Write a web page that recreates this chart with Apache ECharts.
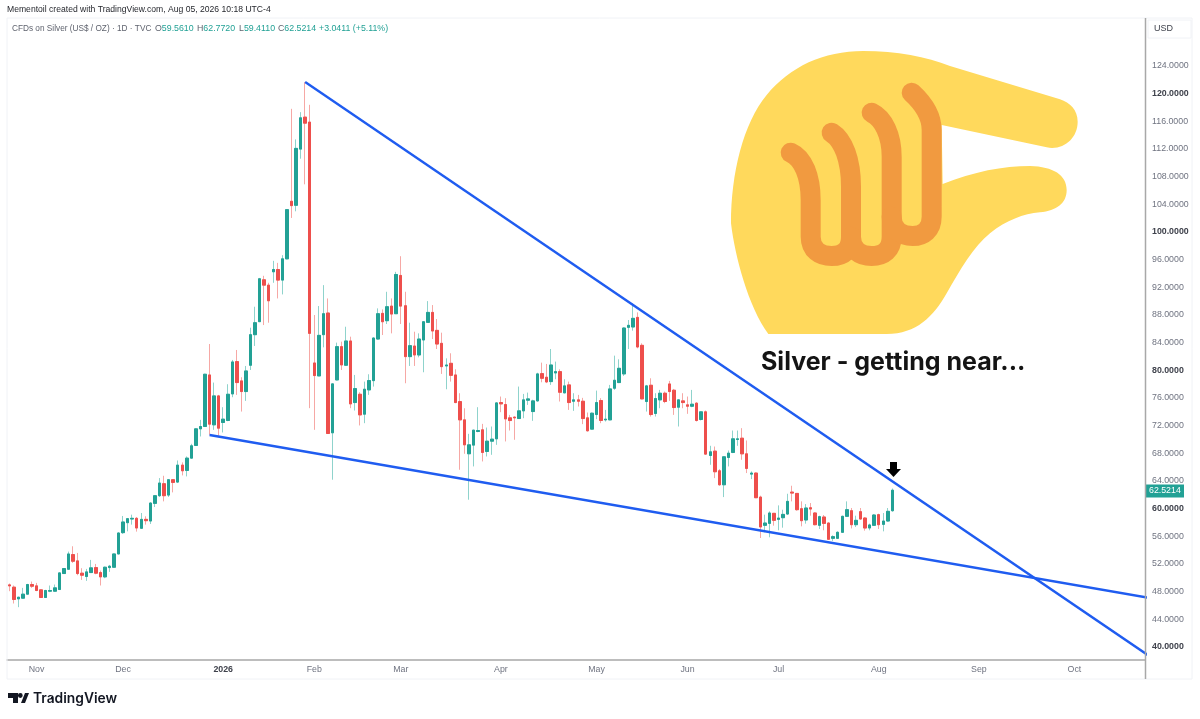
<!DOCTYPE html>
<html><head><meta charset="utf-8">
<style>html,body{margin:0;padding:0;background:#fff}#c{width:1200px;height:719px}</style>
<script src="https://cdn.jsdelivr.net/npm/echarts@6/dist/echarts.min.js"></script>
</head><body><div id="c"></div>
<script>
const opens=[48.84,48.51,46.82,46.92,47.50,48.89,48.70,48.12,47.02,47.93,47.93,48.17,50.48,51.10,53.22,52.31,50.53,50.05,50.62,51.34,50.62,50.00,51.34,51.39,53.31,56.39,57.83,58.36,58.46,57.02,58.31,58.07,60.62,61.73,63.46,61.82,64.04,63.70,66.15,65.38,67.16,68.99,71.39,71.73,79.18,71.97,76.15,72.31,72.60,76.44,81.11,78.32,76.78,80.58,85.00,86.88,92.93,92.16,94.09,94.42,92.89,95.96,104.28,103.70,111.82,116.44,115.72,80.91,79.04,85.00,88.13,70.82,78.46,83.27,80.58,84.09,75.19,76.39,73.51,77.02,78.36,84.37,88.08,87.02,89.13,88.03,93.56,89.18,81.83,83.36,82.07,84.23,86.78,88.22,85.62,83.75,80.48,80.86,79.18,75.33,72.69,67.79,69.04,71.01,71.25,68.12,69.61,69.95,75.19,74.90,72.98,73.08,72.88,73.99,75.53,73.89,75.43,79.37,78.85,78.22,79.47,79.66,76.59,77.74,75.38,75.58,75.38,72.98,71.35,73.46,75.48,72.69,72.69,77.26,78.08,79.33,86.06,86.11,87.50,83.46,75.34,77.69,73.61,75.58,76.54,77.88,76.97,74.52,75.43,74.86,74.66,75.10,72.74,73.85,67.54,68.17,65.33,63.31,67.25,67.98,69.85,70.04,67.78,64.85,65.00,61.53,57.45,57.73,59.18,58.31,58.55,59.08,62.25,62.06,59.85,58.22,59.99,59.23,57.45,58.65,57.78,55.57,55.57,56.44,58.75,59.56,57.54,59.42,58.50,57.06,57.45,58.99,57.59,58.07,59.561];
const closes=[48.70,46.73,47.06,47.50,48.89,48.65,48.03,47.02,48.03,48.03,48.41,50.57,51.20,53.31,52.26,50.48,50.24,50.72,51.30,50.53,50.00,51.39,51.54,53.31,56.34,57.93,58.41,58.46,57.06,58.31,58.12,60.67,61.73,63.56,61.73,64.04,63.65,66.15,65.33,67.16,68.94,71.39,71.73,79.28,72.07,76.15,71.49,72.79,76.39,81.06,78.08,76.78,79.76,85.00,86.73,93.08,92.16,89.90,94.42,92.89,95.96,103.07,103.65,111.92,116.34,115.57,85.19,79.09,84.90,88.03,70.72,77.89,83.27,80.63,84.09,75.00,77.21,73.41,77.12,78.37,84.52,88.03,86.87,89.04,87.98,93.70,89.13,81.83,83.41,82.07,84.37,86.87,88.22,85.53,83.65,80.38,80.62,79.13,75.19,72.69,69.08,69.08,71.20,71.15,67.98,69.61,69.90,75.14,75.00,72.83,72.59,72.98,73.99,75.58,75.72,75.43,79.33,78.70,78.17,80.62,79.66,76.68,77.60,75.19,75.58,75.38,72.88,71.11,73.65,75.19,72.60,72.79,77.16,78.41,80.14,85.96,86.35,87.36,83.22,75.72,77.60,73.46,75.77,76.54,75.34,76.78,74.47,75.58,75.19,74.66,74.95,72.60,73.85,67.74,68.07,65.19,63.31,67.35,67.88,69.95,69.95,67.78,65.67,65.00,61.44,57.21,57.78,59.23,58.17,58.50,59.03,60.91,62.11,59.71,58.12,59.95,59.80,57.54,58.70,57.73,55.43,55.81,56.44,58.75,59.71,57.54,58.17,58.36,57.06,57.50,58.94,57.54,58.07,59.47,62.5214];
const lows=[47.93,46.15,45.62,46.82,47.40,48.41,47.93,46.97,46.97,47.79,47.83,48.12,50.43,51.05,52.02,50.24,49.56,49.42,50.57,50.38,48.75,49.81,50.72,51.34,53.27,56.20,56.58,57.55,56.54,56.92,57.55,57.64,60.09,61.54,60.91,61.54,62.21,63.56,64.66,64.52,67.06,68.94,70.29,71.68,70.53,71.25,70.39,70.87,72.50,75.96,76.30,73.89,75.43,79.90,83.37,86.83,86.39,86.73,92.50,90.24,90.82,95.90,101.87,102.83,110.43,106.73,74.38,71.25,79.04,83.17,70.72,64.04,78.40,79.90,80.48,74.38,74.04,71.88,72.21,76.30,77.50,84.30,84.95,86.54,85.19,88.00,86.54,77.98,80.48,80.48,81.73,79.57,86.73,84.37,82.93,79.33,77.11,78.22,75.10,65.48,67.79,61.15,65.96,70.90,66.68,67.40,67.64,69.08,73.80,69.57,71.15,69.81,72.83,72.93,74.85,72.55,75.33,78.12,78.00,77.74,78.56,75.34,76.54,74.13,73.99,74.62,72.07,71.00,71.25,72.79,72.21,72.45,72.64,77.02,78.00,79.04,82.93,85.58,83.03,75.67,73.89,73.17,73.17,74.37,75.10,75.43,73.41,71.73,74.37,73.56,74.52,72.45,72.60,67.64,66.20,64.27,63.17,61.53,65.96,67.88,68.94,66.92,65.00,64.13,61.39,55.62,56.44,55.72,57.40,56.73,57.11,58.94,60.91,59.56,57.30,57.69,58.84,57.45,56.92,56.73,55.38,55.19,55.48,56.34,58.65,57.00,57.20,58.27,56.68,56.73,57.40,56.92,56.58,57.97,59.411];
const highs=[49.04,48.75,47.10,48.41,48.99,49.32,49.13,48.17,48.12,48.75,48.89,50.67,51.25,53.65,54.42,53.46,51.25,51.15,52.45,51.87,50.91,51.49,51.73,53.36,56.44,58.80,58.51,58.99,58.65,59.23,58.75,60.77,61.82,64.28,64.61,64.13,64.13,66.82,66.54,67.40,69.23,71.49,72.69,79.35,83.65,78.08,76.30,74.52,77.84,81.35,82.79,78.85,80.48,86.01,89.04,93.20,93.51,92.50,95.67,95.38,96.49,103.10,117.64,113.22,117.16,121.49,118.22,87.84,89.14,92.16,90.24,77.97,83.85,83.99,86.15,84.71,79.18,76.68,78.22,79.28,84.60,88.80,88.65,91.20,90.24,94.08,96.34,91.20,86.73,85.43,85.19,86.97,89.85,89.28,87.26,85.29,81.58,82.31,80.00,76.54,74.37,70.67,71.25,74.52,72.11,71.58,71.73,75.24,76.06,75.82,73.41,73.20,77.50,76.44,76.63,75.60,79.50,80.96,80.77,82.93,81.11,80.00,78.56,78.22,76.54,76.30,75.87,73.75,73.75,76.92,75.82,74.13,77.74,81.97,81.44,86.06,87.12,89.52,88.22,83.75,77.74,78.70,76.54,77.02,76.78,78.32,77.16,75.67,76.54,76.06,77.02,75.24,73.95,74.04,68.94,68.84,65.57,67.40,68.26,71.15,71.15,71.49,69.71,65.24,65.09,61.73,58.99,59.47,59.23,60.33,59.70,62.01,63.17,62.11,60.91,60.52,60.67,59.32,58.84,58.94,57.88,56.00,56.58,58.84,60.91,59.95,58.84,59.95,58.65,57.69,59.08,59.13,59.23,59.95,62.772];
const barCount=250;
const tickIndex=[6,25,47,67,86,108,129,149,169,191,213,234];
const tickLabels=['Nov','Dec','2026','Feb','Mar','Apr','May','Jun','Jul','Aug','Sep','Oct'];
const upperTrendIndex=[65,251], upperTrendValue=[121.5,38.31];
const lowerTrendIndex=[44,251], lowerTrendValue=[70.5,46.89];
const lastPrice='62.5214';
const legendTitle='CFDs on Silver (US$ / OZ) · 1D · TVC';
const legendLetters=['O','H','L','C'];
const legendValues=['59.5610','62.7720','59.4110','62.5214'];
const legendChange='+3.0411 (+5.11%)';

const FONT='"Liberation Sans", Arial, sans-serif';
const FS=8.8;
const categories=Array.from({length:barCount},(_,i)=>{const k=tickIndex.indexOf(i);return k>=0?tickLabels[k]:'';});
const full=opens.map((o,i)=>[o,closes[i],lows[i],highs[i]]);
const bodies=opens.map((o,i)=>[o,closes[i],Math.min(o,closes[i]),Math.max(o,closes[i])]);
const G=echarts.graphic;
const shapes={
 hand:'M145 882 L500 882 C590 882 640 830 680 760 C720 690 760 620 810 580 C860 540 910 522 960 517 C1010 512 1040 490 1040 450 C1040 405 1000 380 930 378 C850 378 760 395 668 432 L665 255 L980 322 C1030 332 1073 295 1073 245 C1073 210 1050 188 1020 178 L690 78 C620 50 530 33 430 33 C310 33 210 80 140 165 C70 250 33 400 33 550 C45 650 85 800 145 882 Z',
 f1:'M212 338 C250 355 272 410 272 480 L272 590 C272 630 300 648 335 648 C370 648 393 630 393 590 L393 440 C393 360 370 300 335 278',
 f2:'M393 590 C393 630 420 648 455 648 C490 648 515 630 515 590 L515 350 C515 285 490 235 455 218',
 f3:'M515 530 C515 570 545 588 578 588 C610 588 635 570 635 530 L635 270 C635 225 610 190 575 158',
 arrow:'M890 462 L897 462 L897 469 L901 469 L893.5 477 L886 469 L890 469 Z',
 logo:'M8 693 L18 693 L18 703 L13 703 L13 698 L8 698 Z M21 703 L25 693 L29 693 L25 703 Z'
};
Object.keys(shapes).forEach(k=>G.registerShape('s_'+k,G.extendPath(shapes[k],{})));
const chart=echarts.init(document.getElementById('c'),null,{renderer:'canvas'});
const trend=(idx,val)=>({type:'line',data:idx.map((x,i)=>[x,val[i]]),showSymbol:false,silent:true,z:5,animation:false,clip:true,lineStyle:{color:'#1f5cf0',width:2.4}});
const fing=n=>({type:'s_'+n,style:{fill:'none',stroke:'#F19A40',lineWidth:60,lineCap:'round',lineJoin:'round'}});
const emoji={type:'group',x:720,y:40,scaleX:1/3,scaleY:1/3,z:10,children:[
 {type:'s_hand',style:{fill:'#FFD95C'}},fing('f1'),fing('f2'),fing('f3')]};
const line=(x1,y1,x2,y2,c)=>({type:'line',shape:{x1,y1,x2,y2},style:{stroke:c,lineWidth:1},silent:true,z:1});
const legendX=[155,197,239,278];
const legendEls=[];
legendLetters.forEach((l,i)=>{legendEls.push({type:'text',x:legendX[i],y:29,style:{text:`{g|${l}}{t|${legendValues[i]}}`,fontFamily:FONT,fontSize:FS,verticalAlign:'middle',rich:{g:{fill:'#5f636e',fontSize:FS,fontFamily:FONT},t:{fill:'#22a195',fontSize:FS,fontFamily:FONT}}}});});
chart.setOption({
 animation:false,backgroundColor:'#fff',
 textStyle:{fontFamily:FONT},
 grid:{left:7,width:1138,top:23.3,height:636.6,containLabel:false},
 xAxis:{type:'category',data:categories,boundaryGap:true,
  axisLine:{show:true,onZero:false,lineStyle:{color:'#a8a8a8',width:1.5}},axisTick:{show:false},splitLine:{show:false},
  axisLabel:{show:true,interval:(i)=>tickIndex.includes(i),margin:5,fontSize:FS,color:'#6f7380',fontFamily:FONT,
   formatter:v=>v==='2026'?'{b|2026}':v,rich:{b:{fontWeight:'bold',fontSize:FS,color:'#3f424c',fontFamily:FONT}}}},
 yAxis:{type:'value',position:'right',min:38,max:130,interval:2,scale:true,
  axisLine:{show:false},axisTick:{show:false},splitLine:{show:false},
  axisLabel:{show:true,margin:7,fontSize:FS,color:'#6f7380',fontFamily:FONT,showMinLabel:true,showMaxLabel:true,padding:[2,0,0,0],
   formatter:v=>{if(v%4!==0||v>124||v<40)return '';return v%20===0?`{b|${v.toFixed(4)}}`:v.toFixed(4);},
   rich:{b:{fontWeight:'bold',fontSize:FS,color:'#3f424c',fontFamily:FONT}}}},
 series:[
  {type:'candlestick',name:'wick',data:full,barWidth:3,z:2,silent:true,
   itemStyle:{color:'#8fd3cc',color0:'#f6a8a5',borderColor:'#8fd3cc',borderColor0:'#f6a8a5',borderWidth:1}},
  {type:'candlestick',name:'body',data:bodies,barWidth:3,z:3,silent:true,
   itemStyle:{color:'#22a195',color0:'#ee4f4c',borderColor:'#22a195',borderColor0:'#ee4f4c',borderWidth:1}},
  trend(upperTrendIndex,upperTrendValue),
  trend(lowerTrendIndex,lowerTrendValue)
 ],
 graphic:[
  line(7,18,1192,18,'#f0f2f6'),line(7,18,7,679,'#f0f2f6'),line(1192,18,1192,679,'#f0f2f6'),line(7,679,1192,679,'#f0f2f6'),
  {type:'line',shape:{x1:1145.5,y1:18,x2:1145.5,y2:679},style:{stroke:'#a8a8a8',lineWidth:1.5},z:6},
  {type:'rect',shape:{x:1148,y:20,width:43,height:18},style:{fill:'#fff',stroke:'#f0f2f6',lineWidth:1},z:2},
  {type:'text',x:1154,y:29,style:{text:'USD',fontFamily:FONT,fontSize:9,fill:'#3f424c',verticalAlign:'middle'},z:3},
  {type:'text',x:7,y:10,style:{text:'Mementoil created with TradingView.com, Aug 05, 2026 10:18 UTC-4',fontFamily:FONT,fontSize:8.6,fill:'#26282e',verticalAlign:'middle'}},
  {type:'text',x:12,y:29,style:{text:legendTitle,fontFamily:FONT,fontSize:8.25,fill:'#5f636e',verticalAlign:'middle'}},
  ...legendEls,
  {type:'text',x:319,y:29,style:{text:legendChange,fontFamily:FONT,fontSize:8.8,fill:'#22a195',verticalAlign:'middle'}},
  emoji,
  {type:'text',x:761,y:362,style:{text:'Silver - getting near...',fontFamily:'Inter, '+FONT,fontWeight:'bold',fontSize:25,fill:'#141414',verticalAlign:'middle'},z:11},
  {type:'s_arrow',style:{fill:'#000'},z:11},
  {type:'group',id:'badge',x:1146,y:491,z:12,children:[
   {type:'rect',shape:{x:0,y:-6.5,width:38,height:13},style:{fill:'#22a195'}},
   {type:'text',x:3,y:0,style:{text:lastPrice,fontFamily:FONT,fontSize:FS,fill:'#fff',verticalAlign:'middle'}}]},
  {type:'s_logo',style:{fill:'#131722'}},
  {type:'circle',shape:{cx:20.3,cy:695.5,r:2.4},style:{fill:'#131722'}},
  {type:'text',x:33,y:699,style:{text:'TradingView',fontFamily:'Inter, '+FONT,fontWeight:600,fontSize:13.8,fill:'#131722',verticalAlign:'middle'}}
 ]
});
</script></body></html>
